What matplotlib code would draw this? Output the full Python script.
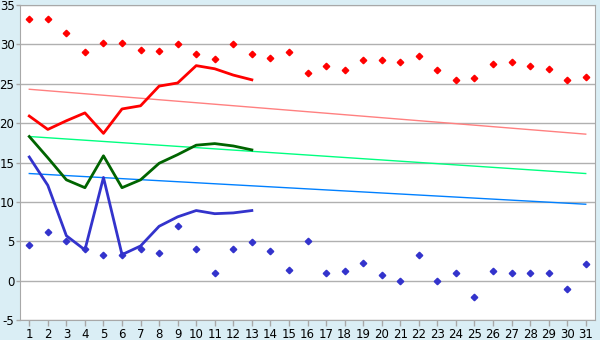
import matplotlib
matplotlib.use("Agg")
import matplotlib.pyplot as plt

plt.rcParams["axes.unicode_minus"] = False

days = list(range(1, 32))
days_line = list(range(1, 14))

max_points = [33.2, 33.2, 31.5, 29.0, 30.2, 30.2, 29.3, 29.2, 30.0, 28.8,
              28.1, 30.0, 28.8, 28.3, 29.0, 26.4, 27.2, 26.7, 28.0, 28.0,
              27.7, 28.5, 26.7, 25.5, 25.7, 27.5, 27.7, 27.3, 26.9, 25.5, 25.8]
min_points = [4.5, 6.2, 5.0, 4.0, 3.3, 3.3, 4.0, 3.5, 7.0, 4.0,
              1.0, 4.0, 4.85, 3.7, 1.3, 5.0, 1.0, 1.2, 2.2, 0.66,
              0.0, 3.2, 0.0, 1.0, -2.1, 1.2, 1.0, 1.0, 1.0, -1.0, 2.05]

max_line = [20.9, 19.2, 20.3, 21.3, 18.7, 21.8, 22.2, 24.7, 25.1, 27.3, 26.9, 26.1, 25.5]
mean_line = [18.3, 15.6, 12.8, 11.8, 15.85, 11.8, 12.8, 14.9, 16.0, 17.2, 17.4, 17.1, 16.6]
min_line = [15.7, 12.1, 5.7, 3.9, 13.1, 3.3, 4.4, 6.9, 8.1, 8.9, 8.5, 8.6, 8.9]

trend_days = [1, 31]
max_trend = [24.3, 18.6]
mean_trend = [18.3, 13.6]
min_trend = [13.6, 9.7]

fig = plt.figure(figsize=(6.0, 3.4), dpi=100, facecolor="#daeef5")
ax = fig.add_axes([20 / 600, 20 / 340, 575 / 600, 315 / 340])
ax.set_facecolor("white")

# trend lines
ax.plot(trend_days, max_trend, color="#ff8080", lw=1)
ax.plot(trend_days, mean_trend, color="#00ff80", lw=1)
ax.plot(trend_days, min_trend, color="#0080ff", lw=1)

# daily lines
ax.plot(days_line, max_line, color="#ff0000", lw=2)
ax.plot(days_line, mean_line, color="#006400", lw=2)
ax.plot(days_line, min_line, color="#3333cc", lw=2)

# points
ax.plot(days, max_points, ls="none", marker="D", ms=3.3, color="#ff0000")
ax.plot(days, min_points, ls="none", marker="D", ms=3.3, color="#3333cc")

ax.set_xlim(0.5, 31.5)
ax.set_ylim(-5, 35)
ax.set_xticks(days)
ax.set_yticks(range(-5, 36, 5))
ax.grid(axis="y", color="#b0b0b0", lw=1)
ax.set_axisbelow(True)
for s in ax.spines.values():
    s.set_color("#a8a8a8")
ax.tick_params(axis="both", colors="#a8a8a8", labelcolor="black", labelsize=8.5, length=4, width=1)
ax.tick_params(axis="y", length=3, pad=1)
ax.tick_params(axis="x", pad=2)

fig.savefig("out.png", dpi=100, facecolor=fig.get_facecolor())
